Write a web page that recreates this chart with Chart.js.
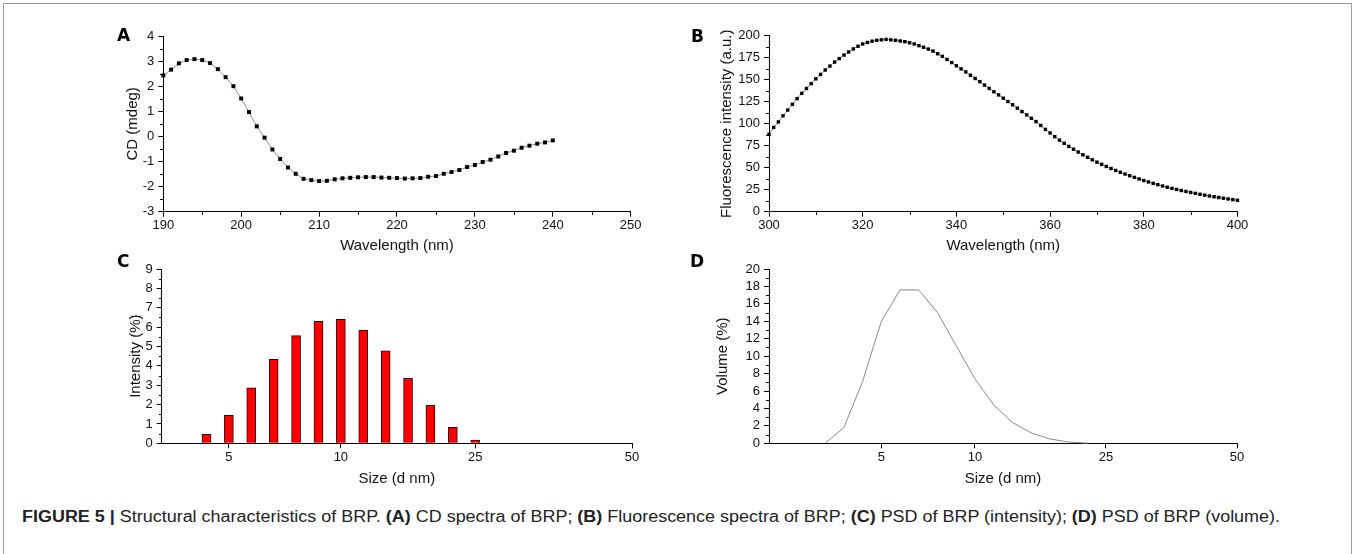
<!DOCTYPE html>
<html><head><meta charset="utf-8">
<script src="https://cdn.jsdelivr.net/npm/chart.js@4.4.0/dist/chart.umd.min.js"></script>
<style>
html,body{margin:0;padding:0;background:#fff;width:1357px;height:554px;overflow:hidden;font-family:"Liberation Sans",Arial,sans-serif;}
#frame{position:absolute;left:3px;top:3px;width:1349px;height:570px;border:1px solid #9a9a9a;box-sizing:border-box;}
canvas{position:absolute;}
.lbl{position:absolute;font-family:"DejaVu Sans",sans-serif;font-weight:bold;font-size:17px;line-height:17px;color:#000;}
#caption{position:absolute;left:22px;top:509px;font-size:16px;line-height:16px;white-space:nowrap;transform-origin:0 0;color:#222;}
</style></head><body>
<div id="frame"></div>
<canvas id="cA" width="560" height="250" style="left:100px;top:10px"></canvas>
<canvas id="cB" width="590" height="250" style="left:690px;top:10px"></canvas>
<canvas id="cC" width="560" height="240" style="left:100px;top:255px"></canvas>
<canvas id="cD" width="590" height="240" style="left:690px;top:255px"></canvas>
<div class="lbl" style="left:117px;top:27px">A</div>
<div class="lbl" style="left:691px;top:28px">B</div>
<div class="lbl" style="left:117px;top:253px">C</div>
<div class="lbl" style="left:690px;top:253px">D</div>
<div id="caption"><b>FIGURE 5 |</b> Structural characteristics of BRP. <b>(A)</b> CD spectra of BRP; <b>(B)</b> Fluorescence spectra of BRP; <b>(C)</b> PSD of BRP (intensity); <b>(D)</b> PSD of BRP (volume).</div>
<script>
// ---------- data ----------
const cdWavelength = [190,191,192,193,194,195,196,197,198,199,200,201,202,203,204,205,206,207,208,209,210,211,212,213,214,215,216,217,218,219,220,221,222,223,224,225,226,227,228,229,230,231,232,233,234,235,236,237,238,239,240];
const cdValues = [2.43,2.66,2.91,3.04,3.08,3.04,2.92,2.68,2.36,2.00,1.51,0.97,0.40,-0.05,-0.52,-0.90,-1.24,-1.49,-1.69,-1.74,-1.78,-1.77,-1.71,-1.67,-1.65,-1.63,-1.62,-1.62,-1.64,-1.65,-1.66,-1.68,-1.67,-1.66,-1.61,-1.58,-1.49,-1.42,-1.34,-1.22,-1.14,-1.02,-0.93,-0.80,-0.66,-0.57,-0.45,-0.37,-0.29,-0.24,-0.16];

const flWavelength = [300,301,302,303,304,305,306,307,308,309,310,311,312,313,314,315,316,317,318,319,320,321,322,323,324,325,326,327,328,329,330,331,332,333,334,335,336,337,338,339,340,341,342,343,344,345,346,347,348,349,350,351,352,353,354,355,356,357,358,359,360,361,362,363,364,365,366,367,368,369,370,371,372,373,374,375,376,377,378,379,380,381,382,383,384,385,386,387,388,389,390,391,392,393,394,395,396,397,398,399,400];
const flValues = [88,95.8,102,109,115.5,122,128.5,134.5,140,145.5,151,156,161,165.5,170,174,178,181.5,185,188,190.6,192.3,193.8,194.8,195.3,195.8,195.3,194.8,194.0,193.2,192.0,190.6,188.7,186.8,184.8,182.5,179.5,176.5,173,169.5,165.8,162.3,158.8,155.1,151.4,147.8,143.9,140.1,136.3,132.7,129.0,125.2,121.5,117.7,113.8,110.0,106.2,102.4,98.0,93.5,89.5,85.3,81.3,77.7,74.2,71.0,67.8,64.7,61.8,59.0,56.3,53.8,51.4,49.1,46.9,44.8,42.8,40.9,39.0,37.2,35.4,33.8,32.2,30.7,29.2,27.8,26.5,25.3,24.1,23.0,21.9,20.8,19.8,18.8,17.9,17.0,16.1,15.3,14.5,13.7,13.0];

const sizeBinsC = ['3.3','3.8','4.4','5','5.7','6.6','7.6','8.7','10','11.6','13.5','15.7','18.2','21.1','25','27.6','30.5','33.7','37.2','41.1','45.4','50'];
const intensityPct = [null,null,0.46,1.45,2.86,4.34,5.56,6.30,6.40,5.85,4.77,3.36,1.96,0.83,0.17,null,null,null,null,null,null,null];

const sizeBinsD = ['2.6','3','3.4','3.8','4.1','4.5','5','5.6','6.3','7.1','8.7','10','11.7','13.5','15.7','18.2','21.1','23','25','27.6','30.5','33.7','37.2','41.1','45.4','50'];
const volumePct = [null,null,null,0,1.8,7.1,14.0,17.6,17.6,15.0,11.2,7.4,4.4,2.4,1.2,0.5,0.15,0.02,null,null,null,null,null,null,null,null];

const sizeTickLabels = ['5','10','25','50'];

// ---------- helpers ----------
const FONT = '"Liberation Sans", Arial, sans-serif';
const tickFont = {family: FONT, size: 13};
const titleFont = {family: FONT, size: 15};

const minorTicks = {
  id: 'minorTicks',
  afterDraw(chart, args, opts) {
    const ctx = chart.ctx, ca = chart.chartArea;
    ctx.save(); ctx.strokeStyle = '#000'; ctx.lineWidth = 1;
    ['x','y'].forEach(ax => {
      if (!opts[ax]) return;
      const sc = chart.scales[ax], t = sc.ticks;
      for (let i = 0; i < t.length - 1; i++) {
        const v = (t[i].value + t[i+1].value) / 2;
        const p = Math.round(sc.getPixelForValue(v)) + 0.5;
        ctx.beginPath();
        if (ax === 'x') { ctx.moveTo(p, Math.round(ca.bottom)); ctx.lineTo(p, Math.round(ca.bottom) + 3); }
        else { ctx.moveTo(Math.round(ca.left), p); ctx.lineTo(Math.round(ca.left) - 3, p); }
        ctx.stroke();
      }
    });
    ctx.restore();
  }
};

function axis(extra, fitSize, isX, titleText) {
  return Object.assign({
    grid: {drawOnChartArea: false, drawTicks: true, tickLength: 5, color: '#000', tickWidth: 1},
    border: {display: true, color: '#000', width: 1},
    ticks: Object.assign({font: tickFont, color: '#111', padding: isX ? 1 : 4, maxRotation: 0, autoSkip: false}, extra.ticks || {}),
    title: {display: true, text: titleText, font: titleFont, color: '#111', padding: 0},
    afterFit: s => { if (isX) s.height = fitSize; else s.width = fitSize; }
  }, extra.base || {});
}

const common = (pad, minor) => ({
  responsive: false, animation: false, events: [],
  layout: {padding: pad},
  plugins: {legend: {display: false}, tooltip: {enabled: false}, minorTicks: minor}
});

// ---------- A ----------
new Chart(document.getElementById('cA'), {
  type: 'line',
  data: {datasets: [{
    data: cdWavelength.map((x, i) => ({x: x, y: cdValues[i]})),
    borderColor: '#8c8c8c', borderWidth: 1, tension: 0,
    pointStyle: 'rect', pointRadius: 2.8, pointBackgroundColor: '#000', pointBorderWidth: 0, clip: false
  }]},
  options: Object.assign(common({left: 24, top: 26, right: 29.3, bottom: 5.3}, {x: true, y: true}), {
    scales: {
      x: axis({base: {type: 'linear', min: 190, max: 250}, ticks: {stepSize: 10}}, 43, true, 'Wavelength (nm)'),
      y: axis({base: {min: -3, max: 4}, ticks: {stepSize: 1}}, 39.3, false, 'CD (mdeg)')
    }
  }),
  plugins: [minorTicks]
});

// ---------- B ----------
new Chart(document.getElementById('cB'), {
  type: 'line',
  data: {datasets: [{
    data: flWavelength.map((x, i) => ({x: x, y: flValues[i]})),
    borderColor: '#8c8c8c', borderWidth: 1, tension: 0,
    pointStyle: 'rect', pointRadius: 2.4, pointBackgroundColor: '#000', pointBorderWidth: 0, clip: false
  }]},
  options: Object.assign(common({left: 28, top: 25.7, right: 42.5, bottom: 5.3}, {x: true, y: true}), {
    scales: {
      x: axis({base: {type: 'linear', min: 300, max: 400}, ticks: {stepSize: 20}}, 43, true, 'Wavelength (nm)'),
      y: axis({base: {min: 0, max: 200}, ticks: {stepSize: 25}}, 51, false, 'Fluorescence intensity (a.u.)')
    }
  }),
  plugins: [minorTicks]
});

function sizeAxis(fit) {
  const a = axis({base: {type: 'category', offset: false}}, fit, true, 'Size (d nm)');
  a.grid.offset = false;
  a.afterBuildTicks = s => { s.ticks = s.ticks.filter(t => sizeTickLabels.includes(s.getLabelForValue(t.value))); };
  return a;
}

// ---------- C ----------
new Chart(document.getElementById('cC'), {
  type: 'bar',
  data: {labels: sizeBinsC, datasets: [{
    data: intensityPct, backgroundColor: '#ff0000', borderColor: '#2a0000', borderWidth: 1, barThickness: 9
  }]},
  options: Object.assign(common({left: 27, top: 14, right: 28, bottom: 7}, {x: false, y: true}), {
    scales: {
      x: sizeAxis(44.7),
      y: axis({base: {min: 0, max: 9}, ticks: {stepSize: 1}}, 34.7, false, 'Intensity (%)')
    }
  }),
  plugins: [minorTicks]
});

// ---------- D ----------
new Chart(document.getElementById('cD'), {
  type: 'line',
  data: {labels: sizeBinsD, datasets: [{
    data: volumePct, borderColor: '#8a8a8a', borderWidth: 1, pointRadius: 0, tension: 0, clip: false
  }]},
  options: Object.assign(common({left: 24, top: 14, right: 43, bottom: 7}, {x: false, y: true}), {
    scales: {
      x: sizeAxis(44.7),
      y: axis({base: {min: 0, max: 20}, ticks: {stepSize: 2}}, 55, false, 'Volume (%)')
    }
  }),
  plugins: [minorTicks]
});

// fit caption to reference width
const cap = document.getElementById('caption');
const w = cap.getBoundingClientRect().width;
cap.style.transform = 'scaleX(' + (1258 / w) + ')';
</script>
</body></html>
